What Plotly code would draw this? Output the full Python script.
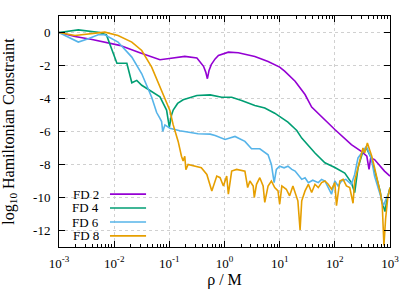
import plotly.graph_objects as go

# log10(rho/M) and log10 Hamiltonian constraint
fd2_lx = [-3.0, -2.71, -2.4, -2.17, -1.9, -1.56, -1.26, -1.17, -1.0, -0.72, -0.5, -0.45, -0.38, -0.34, -0.31,
          -0.28, -0.24, -0.17, -0.11, 0.07, 0.25, 0.55, 0.79, 1.0, 1.09, 1.28, 1.46, 1.58, 1.76, 2.0, 2.3,
          2.48, 2.58, 2.62, 2.65, 2.72, 2.9, 3.0]
fd2_y = [0, -0.24, -0.42, -0.58, -0.78, -1.19, -1.55, -1.65, -1.58, -1.45, -1.55, -1.75, -2.05, -2.4, -2.8,
         -2.3, -1.95, -1.6, -1.39, -1.19, -1.23, -1.45, -1.76, -2.1, -2.34, -2.95, -3.76, -4.52, -5.13, -5.88, -6.8,
         -7.2, -7.5, -8.3, -7.6, -7.7, -8.4, -8.7]

fd4_lx = [-3.0, -2.65, -2.26, -2.14, -1.95, -1.77, -1.68, -1.59, -1.5, -1.32, -1.17, -1.05, -1.0, -0.96, -0.93,
          -0.85, -0.75, -0.5, -0.26, -0.05, 0.13, 0.31, 0.55, 0.73, 0.91, 1.15, 1.31, 1.4, 1.64, 1.82, 2.0,
          2.18, 2.3, 2.36, 2.42, 2.51, 2.57, 2.66, 2.72, 2.82, 2.85, 2.91, 2.94, 3.0]
fd4_y = [0, 0.16, 0.0, -0.15, -1.86, -1.86, -3.05, -2.9, -3.2, -3.6, -3.9, -4.7, -5.75, -5.0, -4.7,
         -4.3, -4.08, -3.82, -3.78, -3.92, -3.92, -4.12, -4.42, -4.58, -4.89, -5.43, -5.94, -6.4, -7.3, -7.9, -8.18,
         -8.52, -9.1, -9.7, -8.2, -7.2, -7.0, -7.6, -8.4, -9.6, -10.2, -10.85, -10.2, -9.4]

fd6_lx = [-3.0, -2.65, -2.47, -2.29, -2.17, -1.93, -1.68, -1.5, -1.32, -1.23, -1.17, -1.14, -1.12, -1.08, -0.99,
          -0.81, -0.48, -0.26, -0.17, 0.01, 0.19, 0.37, 0.49, 0.64, 0.79, 0.85, 0.9, 0.94, 1.0, 1.08, 1.15,
          1.22, 1.28, 1.4, 1.46, 1.52, 1.6, 1.7, 1.76, 1.82, 1.94, 2.0, 2.06, 2.12, 2.2, 2.3, 2.36, 2.42,
          2.51, 2.57, 2.66, 2.72, 2.82, 2.88, 2.94, 3.0]
fd6_y = [0, -0.58, -0.38, -0.14, -0.14, -0.58, -1.49, -2.5, -3.92, -4.85, -5.2, -5.4, -6.0, -5.6, -5.8,
         -5.96, -6.14, -6.16, -6.24, -6.48, -6.3, -6.6, -7.05, -7.05, -7.41, -8.0, -9.1, -8.3, -8.1, -8.2, -8.1,
         -8.3, -8.4, -8.9, -8.8, -9.1, -8.95, -9.1, -8.9, -9.0, -9.8, -9.0, -9.3, -9.0, -8.9, -9.2, -8.6, -7.6,
         -7.2, -6.9, -7.6, -8.7, -9.8, -10.5, -10.0, -9.6]

fd8_lx = [-3.0, -2.71, -2.17, -1.93, -1.68, -1.5, -1.32, -1.14, -0.99, -0.93, -0.84, -0.78, -0.75, -0.72, -0.7,
          -0.66, -0.54, -0.42, -0.32, -0.23, -0.14, -0.08, -0.02, 0.04, 0.07, 0.13, 0.22, 0.37, 0.42, 0.46, 0.52,
          0.54, 0.58, 0.64, 0.7, 0.73, 0.79, 0.85, 0.91, 0.97, 1.0, 1.04, 1.12, 1.18, 1.24, 1.28, 1.33,
          1.37, 1.4, 1.46, 1.52, 1.58, 1.64, 1.7, 1.76, 1.82, 1.88, 1.94, 2.0, 2.03, 2.09, 2.15, 2.21,
          2.27, 2.33, 2.36, 2.39, 2.45, 2.51, 2.54, 2.59, 2.63, 2.67, 2.72, 2.78, 2.83, 2.86, 2.89, 2.92,
          2.96, 3.0]
fd8_y = [0, -0.18, 0.02, -0.18, -0.58, -1.09, -2.1, -3.5, -4.73, -5.6, -6.6, -7.5, -7.78, -7.5, -8.32,
         -8.0, -8.1, -8.2, -8.6, -9.6, -8.7, -8.8, -9.3, -8.7, -9.8, -8.4, -8.3, -8.4, -9.4, -9.0, -9.3,
         -10.0, -9.2, -8.8, -9.3, -10.3, -9.3, -9.0, -9.4, -9.6, -10.4, -9.3, -9.5, -9.9, -9.3, -9.7, -10.2,
         -11.96, -10.2, -9.6, -9.2, -9.7, -9.2, -9.4, -9.1, -9.0, -9.2, -9.5, -9.1, -10.5, -9.0, -8.9, -9.3,
         -9.4, -10.35, -9.0, -8.6, -7.8, -7.0, -7.3, -6.7, -7.1, -7.5, -8.2, -9.0, -9.8, -10.5, -12.9, -11.3,
         -10.0, -9.4]

series_names = ["FD 2", "FD 4", "FD 6", "FD 8"]
series_colors = ["#9400d3", "#009e73", "#56b4e9", "#e69f00"]
series_lx = [fd2_lx, fd4_lx, fd6_lx, fd8_lx]
series_y = [fd2_y, fd4_y, fd6_y, fd8_y]

x_tickvals = [1e-3, 1e-2, 1e-1, 1e0, 1e1, 1e2, 1e3]
x_ticktext = ["10<sup>-3</sup>", "10<sup>-2</sup>", "10<sup>-1</sup>", "10<sup>0</sup>",
              "10<sup>1</sup>", "10<sup>2</sup>", "10<sup>3</sup>"]
y_tickvals = [0, -2, -4, -6, -8, -10, -12]
y_ticktext = ["0", "-2", "-4", "-6", "-8", "-10", "-12"]

minor_x = [m * 10 ** e for e in range(-3, 3) for m in range(2, 10)]

FONT = "Liberation Serif, Times New Roman, serif"

fig = go.Figure()
for name, col, lx, yy in zip(series_names, series_colors, series_lx, series_y):
    fig.add_trace(go.Scatter(x=[10 ** v for v in lx], y=yy, mode="lines", name=name,
                             line=dict(color=col, width=1.6), showlegend=False))

fig.update_layout(
    width=415, height=291,
    margin=dict(l=59, r=25, t=16, b=44),
    paper_bgcolor="white", plot_bgcolor="white",
    font=dict(family=FONT, size=13, color="black"),
    xaxis=dict(type="log", range=[-3, 3], tickvals=x_tickvals, ticktext=x_ticktext,
               ticks="inside", ticklen=6, tickcolor="black", showline=True, linecolor="black",
               linewidth=1, mirror="ticks", showgrid=True, gridcolor="#d0d0d0", griddash="dot",
               gridwidth=1, zeroline=False, automargin=False, ticklabelstandoff=4,
               minor=dict(tickvals=minor_x, ticks="inside", ticklen=3, tickcolor="black", showgrid=False),
               title=dict(text="ρ / M", standoff=4)),
    yaxis=dict(range=[-13, 1], tickvals=y_tickvals, ticktext=y_ticktext,
               ticks="inside", ticklen=6, tickcolor="black", showline=True, linecolor="black",
               linewidth=1, mirror="ticks", showgrid=True, gridcolor="#d0d0d0", griddash="dot",
               gridwidth=1, zeroline=False, automargin=False, ticklabelstandoff=5,
               title=dict(text="log<sub>10</sub> Hamiltonian Constraint", standoff=15)),
)

# gnuplot-style key: text on the left, line sample on the right, bottom-left corner
fig.add_shape(type="rect", xref="paper", yref="paper", x0=0.033, x1=0.284, y0=0.017, y1=0.262,
              fillcolor="white", line=dict(width=0), layer="between")
key_y = [0.229, 0.169, 0.108, 0.048]
for name, col, ky in zip(series_names, series_colors, key_y):
    fig.add_annotation(xref="paper", yref="paper", x=0.124, y=ky, text=name, showarrow=False,
                       xanchor="right", yanchor="middle", borderpad=0, height=13,
                       font=dict(family=FONT, size=13))
    fig.add_shape(type="line", xref="paper", yref="paper", x0=0.154, x1=0.263, y0=ky, y1=ky,
                  line=dict(color=col, width=1.6))

fig.write_html("out.html", config={"displayModeBar": False},
               post_script="document.body.style.margin='0';")
